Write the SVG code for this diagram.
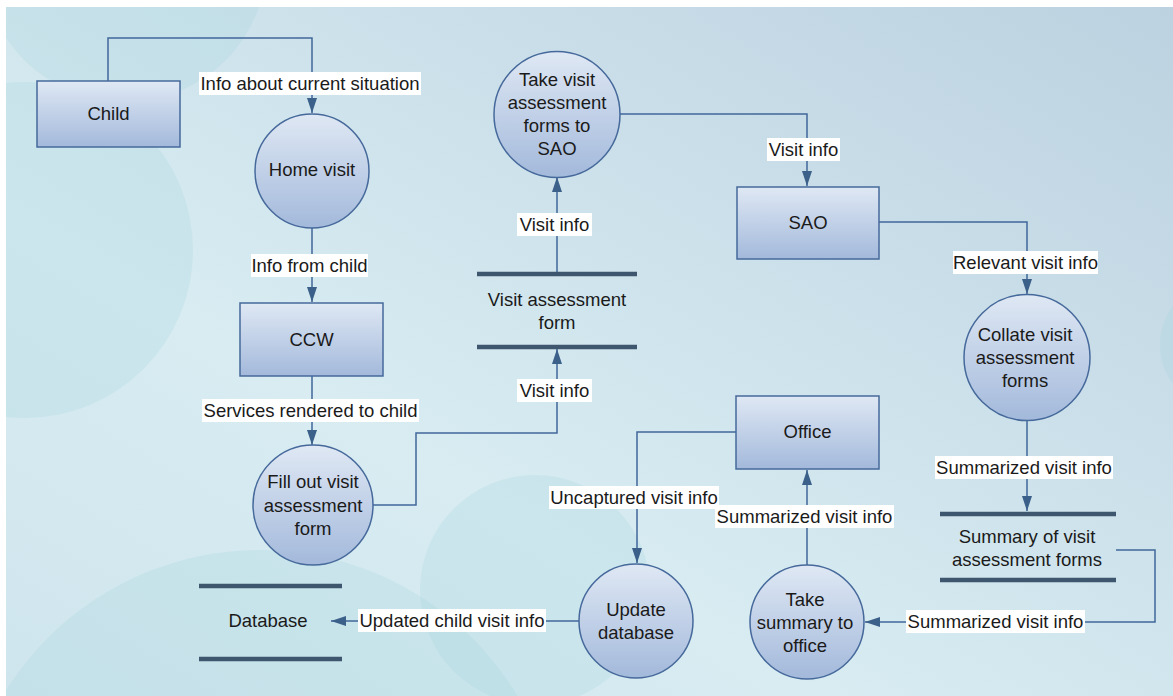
<svg xmlns="http://www.w3.org/2000/svg" width="1173" height="696" viewBox="0 0 1173 696">
  <defs>
    <linearGradient id="bg" x1="0" y1="1" x2="1" y2="0">
      <stop offset="0" stop-color="#cfe5ed"/>
      <stop offset="0.35" stop-color="#d8ecf2"/>
      <stop offset="1" stop-color="#bcd2e0"/>
    </linearGradient>
    <linearGradient id="nodeFill" x1="0" y1="0" x2="0" y2="1">
      <stop offset="0" stop-color="#dfe8f4"/>
      <stop offset="1" stop-color="#a3b9db"/>
    </linearGradient>
    <marker id="arrow" markerUnits="userSpaceOnUse" markerWidth="15" markerHeight="10" refX="15" refY="5" orient="auto">
      <path d="M0,0 L15,5 L0,10 Z" fill="#3b6089"/>
    </marker>
    <clipPath id="bgClip"><rect x="6" y="7" width="1167" height="689"/></clipPath>
  </defs>
  <style>
    .node { fill: url(#nodeFill); stroke: #46699b; stroke-width: 1.5; }
    .store { stroke: #3e566e; stroke-width: 4.5; }
    .flow { fill: none; stroke: #40679a; stroke-width: 1.5; marker-end: url(#arrow); }
    .lbl-bg { fill: #ffffff; }
    text { font-family: "Liberation Sans", Arial, sans-serif; font-size: 18.5px; fill: #1a1a1a; text-anchor: middle; }
    .deco { fill: #9fd0dc; fill-opacity: 0.22; }
  </style>

  <!-- backdrop -->
  <rect x="0" y="0" width="1173" height="696" fill="#ffffff"/>
  <g id="backdrop">
    <rect x="6" y="7" width="1167" height="689" fill="url(#bg)"/>
    <g clip-path="url(#bgClip)">
      <circle class="deco" cx="125" cy="-40" r="142"/>
      <circle class="deco" cx="25" cy="250" r="168"/>
      <circle class="deco" cx="260" cy="850" r="300"/>
      <circle class="deco" cx="535" cy="590" r="115"/>
      <circle class="deco" cx="1225" cy="345" r="65"/>
    </g>
  </g>

  <!-- data flows -->
  <g id="connectors">
    <path class="flow" d="M108,81 V38 H312 V113"/>
    <path class="flow" d="M312,228 V302"/>
    <path class="flow" d="M312,376 V445"/>
    <path class="flow" d="M373,505 H416 V433 H557 V349"/>
    <path class="flow" d="M557,272 V177"/>
    <path class="flow" d="M620,114 H807 V186"/>
    <path class="flow" d="M879,222 H1027 V294"/>
    <path class="flow" d="M1027,420 V511"/>
    <path class="flow" d="M1116,550 H1155 V622 H865"/>
    <path class="flow" d="M807,565 V470"/>
    <path class="flow" d="M736,432 H637 V563"/>
    <path class="flow" d="M579,621 H331"/>

    <g id="flow-labels">
      <rect class="lbl-bg" x="199" y="72" width="222" height="23"/>
      <text x="310" y="90">Info about current situation</text>
      <rect class="lbl-bg" x="251" y="254" width="117" height="23"/>
      <text x="309.5" y="272">Info from child</text>
      <rect class="lbl-bg" x="202" y="399" width="217" height="23"/>
      <text x="310.5" y="417">Services rendered to child</text>
      <rect class="lbl-bg" x="517" y="379" width="75" height="23"/>
      <text x="554.5" y="397">Visit info</text>
      <rect class="lbl-bg" x="517" y="213" width="75" height="23"/>
      <text x="554.5" y="231">Visit info</text>
      <rect class="lbl-bg" x="767" y="138" width="73" height="23"/>
      <text x="803.5" y="156">Visit info</text>
      <rect class="lbl-bg" x="953" y="251" width="145" height="23"/>
      <text x="1025.5" y="269">Relevant visit info</text>
      <rect class="lbl-bg" x="935" y="456" width="178" height="23"/>
      <text x="1024" y="474">Summarized visit info</text>
      <rect class="lbl-bg" x="906" y="610" width="179" height="23"/>
      <text x="995.5" y="628">Summarized visit info</text>
      <rect class="lbl-bg" x="715" y="505" width="179" height="23"/>
      <text x="804.5" y="523">Summarized visit info</text>
      <rect class="lbl-bg" x="549" y="486" width="170" height="23"/>
      <text x="634" y="504">Uncaptured visit info</text>
      <rect class="lbl-bg" x="358" y="609" width="188" height="23"/>
      <text x="452" y="627">Updated child visit info</text>
    </g>
  </g>

  <!-- external entities -->
  <g id="child">
    <rect class="node" x="37" y="81" width="143" height="66"/>
    <text x="108.5" y="120">Child</text>
  </g>
  <g id="ccw">
    <rect class="node" x="240" y="303" width="143" height="73"/>
    <text x="311.5" y="346">CCW</text>
  </g>
  <g id="sao">
    <rect class="node" x="737" y="187" width="142" height="72"/>
    <text x="808" y="229">SAO</text>
  </g>
  <g id="office">
    <rect class="node" x="736" y="396" width="143" height="73"/>
    <text x="807.5" y="438">Office</text>
  </g>

  <!-- processes -->
  <g id="home-visit">
    <circle class="node" cx="312" cy="171" r="57"/>
    <text x="312" y="176">Home visit</text>
  </g>
  <g id="fill-out-form">
    <circle class="node" cx="313" cy="505" r="60"/>
    <text x="313" y="488">Fill out visit</text>
    <text x="313" y="512">assessment</text>
    <text x="313" y="535">form</text>
  </g>
  <g id="take-forms-to-sao">
    <circle class="node" cx="557" cy="114.5" r="63"/>
    <text x="557" y="86">Take visit</text>
    <text x="557" y="109">assessment</text>
    <text x="557" y="132">forms to</text>
    <text x="557" y="155">SAO</text>
  </g>
  <g id="collate-forms">
    <circle class="node" cx="1027" cy="357.5" r="63"/>
    <text x="1025" y="341">Collate visit</text>
    <text x="1025" y="364">assessment</text>
    <text x="1025" y="387">forms</text>
  </g>
  <g id="take-summary">
    <circle class="node" cx="807" cy="622" r="57"/>
    <text x="805" y="606">Take</text>
    <text x="805" y="629">summary to</text>
    <text x="805" y="652">office</text>
  </g>
  <g id="update-database">
    <circle class="node" cx="636" cy="621" r="57"/>
    <text x="636" y="616">Update</text>
    <text x="636" y="639">database</text>
  </g>

  <!-- data stores -->
  <g id="visit-assessment-form">
    <line class="store" x1="477" y1="274" x2="637" y2="274"/>
    <line class="store" x1="477" y1="347" x2="637" y2="347"/>
    <text x="557" y="306">Visit assessment</text>
    <text x="557" y="329">form</text>
  </g>
  <g id="summary-store">
    <line class="store" x1="940" y1="514" x2="1116" y2="514"/>
    <line class="store" x1="940" y1="580" x2="1116" y2="580"/>
    <text x="1027" y="543">Summary of visit</text>
    <text x="1027" y="566">assessment forms</text>
  </g>
  <g id="database">
    <line class="store" x1="199" y1="586" x2="342" y2="586"/>
    <line class="store" x1="199" y1="659" x2="342" y2="659"/>
    <text x="268" y="627">Database</text>
  </g>
</svg>
